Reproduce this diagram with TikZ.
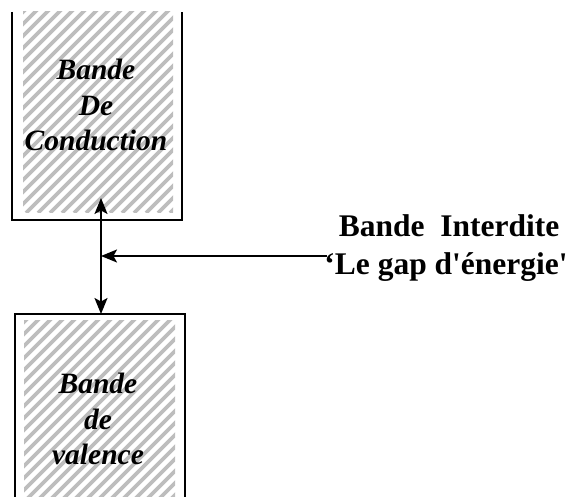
\documentclass[tikz,border=0pt]{standalone}
\usepackage{fontspec}
\setmainfont{Liberation Serif}[Ligatures=TeXOff]
\usetikzlibrary{arrows.meta}
\begin{document}
\begin{tikzpicture}[x=1pt,y=-1pt,
  frame/.style={line width=1.8pt, black},
  hatch/.style={line width=3.8pt, black!26},
  bandtext/.style={font=\fontsize{29.5}{35.5}\selectfont\bfseries\itshape, align=center, inner sep=0pt},
  gaptext/.style={font=\fontsize{31.5}{38}\selectfont\bfseries, anchor=base, inner sep=0pt},
  conn/.style={line width=1.6pt, -{Stealth[length=16pt,width=13pt,inset=3.5pt]}}
]
\useasboundingbox (0,0) rectangle (568,497);
% conduction band hatching
\begin{scope}
\clip (23,12) rectangle (173,213);
\foreach \i in {-250,-238,...,200} \draw[hatch] (\i,213) -- ++(260,-260);
\end{scope}
% valence band hatching
\begin{scope}
\clip (24,321) rectangle (175,497);
\foreach \i in {-250,-238,...,200} \draw[hatch] (\i,500) -- ++(260,-260);
\end{scope}
% frames
\draw[frame] (12,12) -- (12,220) -- (182,220) -- (182,12);
\draw[frame] (15,500) -- (15,314) -- (185,314) -- (185,500);
% texts
\node[bandtext] (cb) at (96,105) {Bande\\De\\Conduction};
\node[bandtext] (vb) at (98,419) {Bande\\de\\valence};
\node[gaptext] (g1) at (449,237) {Bande\ \ Interdite};
\node[gaptext] (g2) at (446,275) {‘Le gap d'énergie'};
% connectors
\coordinate (ctip) at (101,198);
\coordinate (vtip) at (101,314);
\coordinate (j) at (101,256);
\coordinate (gs) at (327,256);
\draw[conn] (j) -- (ctip);
\draw[conn] (j) -- (vtip);
\draw[conn] (gs) -- (j);
\end{tikzpicture}
\end{document}
